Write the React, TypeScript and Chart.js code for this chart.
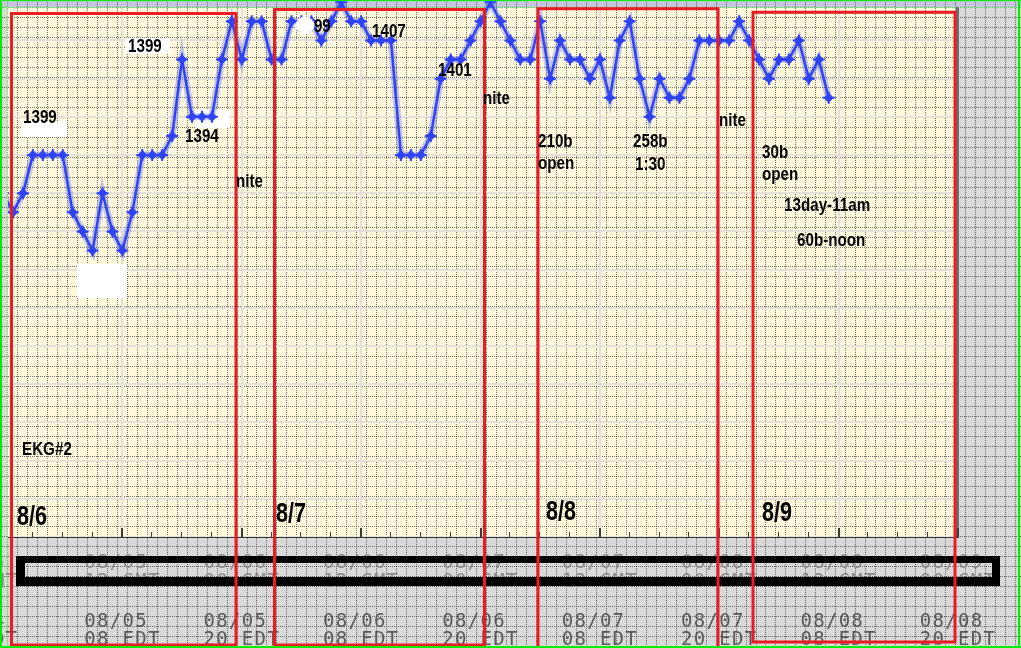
import React, { useEffect, useRef } from "react";
import { Chart, registerables } from "chart.js";

Chart.register(...registerables);

// ---- data (hours relative to 08/05 08 EDT, price level in grid units) ----
const hours = [
  -12, -11, -10, -9, -8, -7, -6, -5, -4, -3, -2, -1, 0, 1, 2, 3, 4, 5, 6, 7, 8, 9, 10, 11, 12, 13, 14, 15, 16, 17,
  18, 19, 20, 21, 22, 23, 24, 25, 26, 27, 28, 29, 30, 31, 32, 33, 34, 35, 36, 37, 38, 39, 40, 41, 42, 43, 44, 45,
  46, 47, 48, 49, 50, 51, 52, 53, 54, 55, 56, 57, 58, 59, 60, 61, 62, 63, 64, 65, 66, 67, 68, 69, 70, 71,
];
const levels = [
  9.0, 8.5, 9.0, 10.0, 10.0, 10.0, 10.0, 8.5, 8.0, 7.5, 9.0, 8.0, 7.5, 8.5, 10.0, 10.0, 10.0, 10.5, 12.5, 11.0,
  11.0, 11.0, 12.5, 13.5, 12.5, 13.5, 13.5, 12.5, 12.5, 13.5, 13.5, 13.5, 13.0, 13.5, 14.0, 13.5, 13.5, 13.0,
  13.0, 13.0, 10.0, 10.0, 10.0, 10.5, 12.0, 12.5, 12.5, 13.0, 13.5, 14.0, 13.5, 13.0, 12.5, 12.5, 13.5, 12.0,
  13.0, 12.5, 12.5, 12.0, 12.5, 11.5, 13.0, 13.5, 12.0, 11.0, 12.0, 11.5, 11.5, 12.0, 13.0, 13.0, 13.0, 13.0,
  13.5, 13.0, 12.5, 12.0, 12.5, 12.5, 13.0, 12.0, 12.5, 11.5,
];

const xMin = -11.5;
const xMax = 84;
const yMin = 0;
const yMax = 13.85;
const yGridValues = [0, 1, 2, 3, 4, 5, 6, 7, 8, 9, 10, 11, 12, 13];
const majorTickHours = [0, 12, 24, 36, 48, 60, 72, 84];
const minorTickHours = [-9, -6, -3, 3, 6, 9, 15, 18, 21, 27, 30, 33, 39, 42, 45, 51, 54, 57, 63, 66, 69, 75, 78, 81];

// tick labels
const labelHours = [-14.3, 0, 12, 24, 36, 48, 60, 72, 84];
const gmtDates = ["08/05", "08/05", "08/06", "08/06", "08/07", "08/07", "08/08", "08/08", "08/09"];
const gmtHours = ["00 GMT", "12 GMT", "00 GMT", "12 GMT", "00 GMT", "12 GMT", "00 GMT", "12 GMT", "00 GMT"];
const edtDates = ["08/04", "08/05", "08/05", "08/06", "08/06", "08/07", "08/07", "08/08", "08/08"];
const edtHours = ["20 EDT", "08 EDT", "20 EDT", "08 EDT", "20 EDT", "08 EDT", "20 EDT", "08 EDT", "20 EDT"];

// hand-written notes on the picture
const noteTexts = [
  "1399", "1399", "1394", "nite", "1407", "1401", "nite", "210b", "open", "258b", "1:30", "nite",
  "30b", "open", "13day-11am", "60b-noon", "EKG#2", "8/6", "8/7", "8/8", "8/9",
];
const notePos: [number, number, number][] = [
  [23, 123, 19], [128, 52, 19], [185, 142, 19], [236, 187, 19], [372, 37, 19], [438, 76, 19], [483, 104, 19],
  [538, 147, 19], [538, 169, 19], [633, 147, 19], [635, 170, 19], [719, 126, 19], [762, 158, 19], [762, 180, 19],
  [784, 211, 19], [797, 246, 19], [22, 455, 19], [17, 525, 27], [276, 522, 27], [546, 520, 27], [762, 521, 27],
];

const redBoxes: [number, number, number, number][] = [
  [11.5, 13.5, 236, 645],
  [274.5, 9.5, 484.5, 645],
  [538, 8.7, 718, 652],
  [753, 12.3, 955, 642],
];
const whitePatches: [number, number, number, number][] = [
  [21, 121, 46, 16],
  [125, 38, 45, 16],
  [196, 110, 34, 18],
  [77, 264, 50, 34],
];

const W = 1021;
const H = 648;
const DOT = 9.98;

function noteText(ctx: CanvasRenderingContext2D, t: string, x: number, base: number, size: number) {
  ctx.save();
  ctx.font = `bold ${size}px "Liberation Sans", Arial, sans-serif`;
  ctx.fillStyle = "#000";
  ctx.textBaseline = "alphabetic";
  ctx.translate(x, base);
  ctx.scale(0.8, 1);
  ctx.fillText(t, 0, 0);
  ctx.restore();
}

const paperPlugin = {
  id: "paper",
  beforeDraw(chart: any) {
    const ctx: CanvasRenderingContext2D = chart.ctx;
    const a = chart.chartArea;
    ctx.save();
    ctx.fillStyle = "#d9d9d9";
    ctx.fillRect(0, 0, W, H);
    ctx.fillStyle = "#c4c6da";
    ctx.fillRect(0, 0, W, 7);
    ctx.fillRect(0, 0, 7, a.top);
    ctx.fillStyle = "#fff8dc";
    ctx.fillRect(a.left - 1, a.top, a.right - a.left + 1, a.bottom - a.top);
    // dotted overlay grid
    ctx.lineWidth = 1;
    ctx.setLineDash([1, 1]);
    let i = 0;
    for (let x = 7; x < W; x += DOT, i++) {
      const px = Math.round(x) + 0.5;
      ctx.strokeStyle = i === 0 ? "#33dd33" : "rgba(30,30,30,0.62)";
      ctx.beginPath();
      ctx.moveTo(px, 0);
      ctx.lineTo(px, H);
      ctx.stroke();
    }
    i = 0;
    for (let y = 7; y < H; y += DOT, i++) {
      const py = Math.round(y) + 0.5;
      ctx.strokeStyle = i === 0 ? "#33dd33" : "rgba(30,30,30,0.62)";
      ctx.beginPath();
      ctx.moveTo(0, py);
      ctx.lineTo(W, py);
      ctx.stroke();
    }
    ctx.restore();
  },
  beforeDatasetsDraw(chart: any) {
    const ctx: CanvasRenderingContext2D = chart.ctx;
    ctx.save();
    ctx.fillStyle = "#ffffff";
    whitePatches.forEach(([x, y, w, h]) => ctx.fillRect(x, y, w, h));
    ctx.restore();
  },
  afterDraw(chart: any) {
    const ctx: CanvasRenderingContext2D = chart.ctx;
    const a = chart.chartArea;
    const xs = chart.scales.x;
    ctx.save();
    // right border of plot
    ctx.fillStyle = "#6e6e6e";
    ctx.fillRect(a.right - 2, 7, 3, a.bottom - 7);
    // tick marks
    ctx.fillStyle = "#3a3a3a";
    minorTickHours.forEach((h) => {
      const px = Math.round(xs.getPixelForValue(h));
      ctx.fillRect(px - 1, a.bottom - 5, 1, 5);
    });
    majorTickHours.forEach((h) => {
      const px = Math.round(xs.getPixelForValue(h));
      ctx.fillRect(px - 1, a.bottom - 9, 2, 9);
    });
    // half-erased note
    noteText(ctx, "1399", 297, 32, 19);
    ctx.fillStyle = "#ffffff";
    ctx.beginPath();
    ctx.ellipse(305, 25.5, 9.5, 9, 0, 0, Math.PI * 2);
    ctx.fill();

    // tick labels
    ctx.font = '19px "DejaVu Sans Mono", monospace';
    (ctx as any).letterSpacing = "1.3px";
    ctx.textBaseline = "alphabetic";
    labelHours.forEach((h, k) => {
      const px = xs.getPixelForValue(h);
      const w = ctx.measureText(edtHours[k]).width;
      const left = px - w / 2;
      ctx.fillStyle = "#8c8c8c";
      ctx.fillText(gmtDates[k], left, 568);
      ctx.fillText(gmtHours[k], left, 587);
      ctx.fillStyle = "#5a5a5a";
      ctx.fillText(edtDates[k], left, 627);
      ctx.fillText(edtHours[k], left, 645);
    });
    (ctx as any).letterSpacing = "0px";
    // black frame in the lower band
    ctx.fillStyle = "#000";
    ctx.fillRect(16, 556, 984, 7);
    ctx.fillRect(16, 577, 984, 9);
    ctx.fillRect(16, 556, 9, 30);
    ctx.fillRect(992, 556, 8, 30);

    // red boxes
    ctx.strokeStyle = "#ec1c24";
    ctx.lineWidth = 3;
    redBoxes.forEach(([x1, y1, x2, y2]) => ctx.strokeRect(x1, y1, x2 - x1, y2 - y1));

    // notes
    noteTexts.forEach((t, k) => {
      const [x, b, s] = notePos[k];
      noteText(ctx, t, x, b, s);
    });

    // green frame
    ctx.fillStyle = "#00ee00";
    ctx.fillRect(0, 0, 2, H);
    ctx.fillRect(0, 0, W, 1);
    ctx.fillRect(W - 3, 0, 2, H);
    ctx.fillRect(0, H - 2, W, 2);
    ctx.restore();
  },
};

export default function App() {
  const ref = useRef<HTMLCanvasElement>(null);
  useEffect(() => {
    const pts = hours.map((h, i) => ({ x: h, y: levels[i] }));
    const clip = { left: 0, top: 8, right: 0, bottom: 0 };
    const chart = new Chart(ref.current as HTMLCanvasElement, {
      type: "line",
      data: {
        datasets: [
          {
            data: pts,
            borderColor: "#2f43f5",
            borderWidth: 2.5,
            pointStyle: "rectRot",
            pointRadius: 4.5,
            pointBackgroundColor: "#2f43f5",
            pointBorderColor: "#2f43f5",
            pointBorderWidth: 1,
            clip: clip as any,
            order: 1,
          },
          {
            data: pts,
            borderColor: "rgba(60,80,240,0.3)",
            borderWidth: 7,
            pointStyle: "crossRot",
            pointRadius: 0,
            clip: clip as any,
            order: 2,
          },
          {
            data: pts,
            showLine: false,
            pointStyle: "cross",
            pointRadius: 6,
            pointBorderColor: "#2f43f5",
            pointBorderWidth: 2,
            clip: clip as any,
            order: 0,
          },
        ],
      },
      options: {
        animation: false,
        responsive: false,
        devicePixelRatio: 1,
        layout: { padding: { left: 8, top: 8, right: W - 958, bottom: H - 537 } },
        plugins: { legend: { display: false }, tooltip: { enabled: false } },
        scales: {
          x: {
            type: "linear",
            min: xMin,
            max: xMax,
            afterBuildTicks: (axis: any) => {
              axis.ticks = majorTickHours.map((v) => ({ value: v }));
            },
            ticks: { display: false },
            grid: { color: "#e2e0d8", lineWidth: 2, drawTicks: false },
            border: { display: true, color: "#333333", width: 1 },
          },
          y: {
            type: "linear",
            min: yMin,
            max: yMax,
            afterBuildTicks: (axis: any) => {
              axis.ticks = yGridValues.map((v) => ({ value: v }));
            },
            ticks: { display: false },
            grid: { color: "#e2e0d8", lineWidth: 2, drawTicks: false },
            border: { display: false },
          },
        },
      },
      plugins: [paperPlugin],
    });
    return () => chart.destroy();
  }, []);
  return (
    <div style={{ position: "absolute", left: 0, top: 0, width: W, height: H }}>
      <canvas ref={ref} width={W} height={H} style={{ width: W, height: H, display: "block" }} />
    </div>
  );
}
